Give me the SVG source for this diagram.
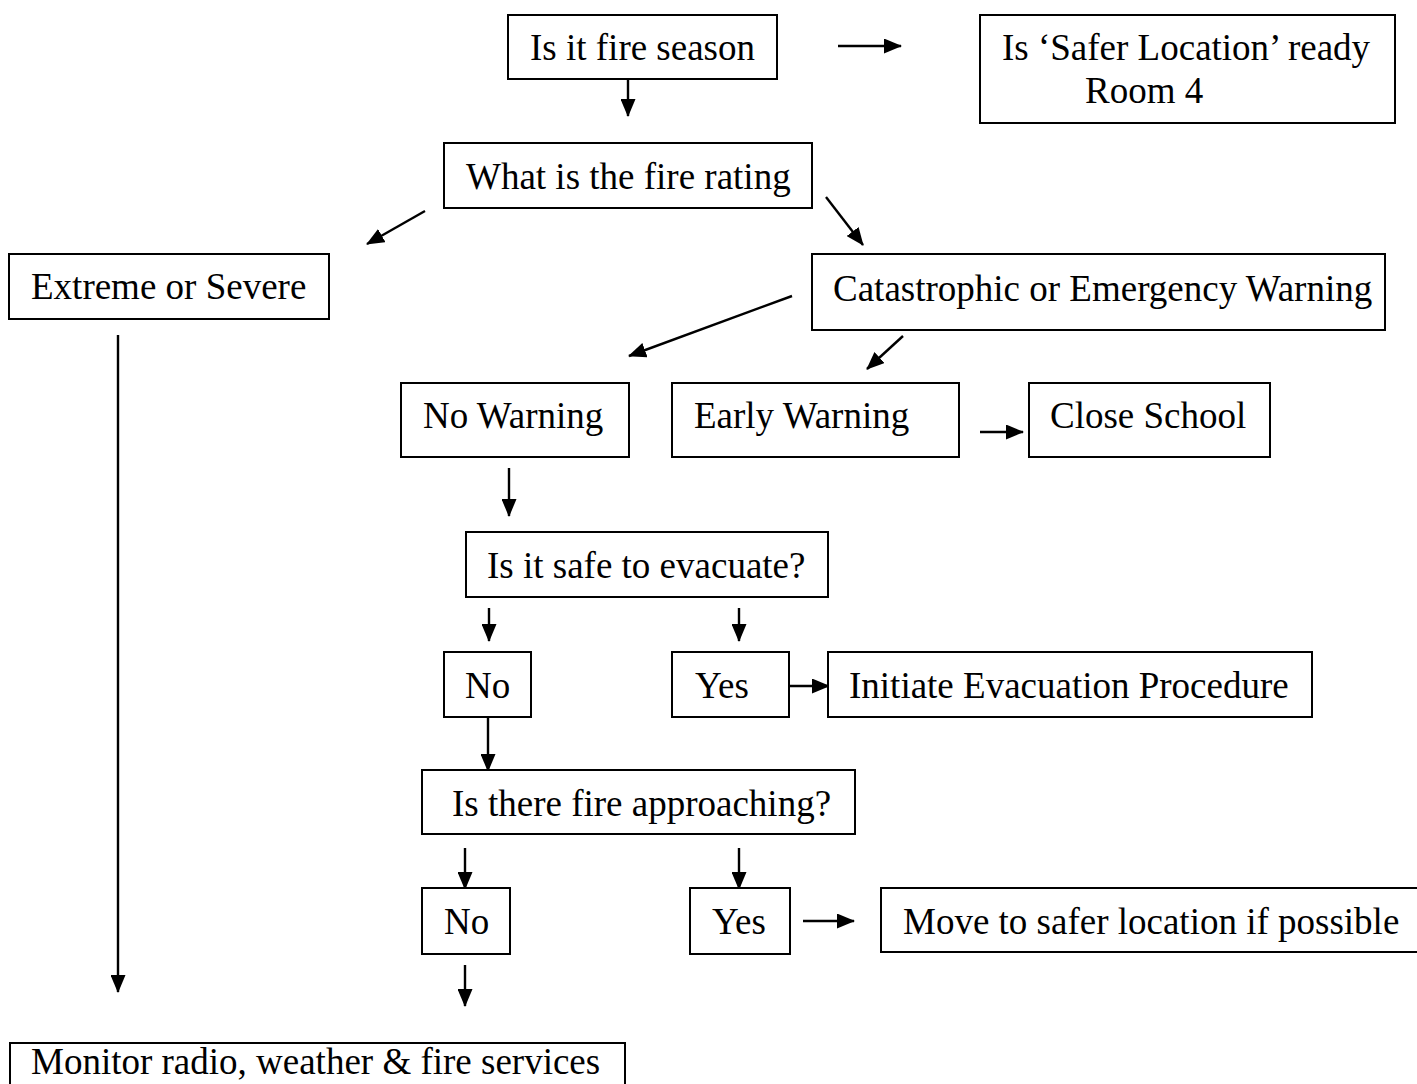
<svg xmlns="http://www.w3.org/2000/svg" width="1417" height="1084" viewBox="0 0 1417 1084">
<defs>
<marker id="ah" markerUnits="userSpaceOnUse" markerWidth="18" markerHeight="15" refX="17" refY="7.5" orient="auto">
<path d="M0,0 L18,7.5 L0,15 Z" fill="#000"/>
</marker>
<style>
.b{fill:#fff;stroke:#000;stroke-width:2}
.t{font-family:"Liberation Serif","Times New Roman",serif;font-size:37px;fill:#000}
.c{stroke:#000;stroke-width:2.4;fill:none;marker-end:url(#ah)}
</style>
</defs>
<rect width="1417" height="1084" fill="#fff"/>
<g id="connectors">
<line class="c" x1="838" y1="46" x2="901" y2="46"/>
<line class="c" x1="628" y1="79" x2="628" y2="116"/>
<line class="c" x1="425" y1="211" x2="367" y2="244"/>
<line class="c" x1="826" y1="197" x2="863" y2="245"/>
<line class="c" x1="118" y1="335" x2="118" y2="992"/>
<line class="c" x1="792" y1="296" x2="629" y2="356"/>
<line class="c" x1="903" y1="336" x2="867" y2="369"/>
<line class="c" x1="980" y1="432" x2="1023" y2="432"/>
<line class="c" x1="509" y1="468" x2="509" y2="516"/>
<line class="c" x1="489" y1="608" x2="489" y2="641"/>
<line class="c" x1="739" y1="608" x2="739" y2="641"/>
<line class="c" x1="789" y1="686" x2="829" y2="686"/>
<line class="c" x1="488" y1="717" x2="488" y2="771"/>
<line class="c" x1="465" y1="848" x2="465" y2="889"/>
<line class="c" x1="739" y1="848" x2="739" y2="889"/>
<line class="c" x1="803" y1="921" x2="854" y2="921"/>
<line class="c" x1="465" y1="965" x2="465" y2="1006"/>
</g>
<g id="n1"><rect class="b" x="508" y="15" width="269" height="64"/><text class="t" x="530" y="60">Is it fire season</text></g>
<g id="n2"><rect class="b" x="980" y="15" width="415" height="108"/><text class="t" x="1002" y="60">Is ‘Safer Location’ ready</text><text class="t" x="1085" y="103">Room 4</text></g>
<g id="n3"><rect class="b" x="444" y="143" width="368" height="65"/><text class="t" x="466" y="189">What is the fire rating</text></g>
<g id="n4"><rect class="b" x="9" y="254" width="320" height="65"/><text class="t" x="31" y="299">Extreme or Severe</text></g>
<g id="n5"><rect class="b" x="812" y="254" width="573" height="76"/><text class="t" x="833" y="301">Catastrophic or Emergency Warning</text></g>
<g id="n6"><rect class="b" x="401" y="383" width="228" height="74"/><text class="t" x="423" y="428">No Warning</text></g>
<g id="n7"><rect class="b" x="672" y="383" width="287" height="74"/><text class="t" x="694" y="428">Early Warning</text></g>
<g id="n8"><rect class="b" x="1029" y="383" width="241" height="74"/><text class="t" x="1050" y="428">Close School</text></g>
<g id="n9"><rect class="b" x="466" y="532" width="362" height="65"/><text class="t" x="487" y="578">Is it safe to evacuate?</text></g>
<g id="n10"><rect class="b" x="444" y="652" width="87" height="65"/><text class="t" x="465" y="698">No</text></g>
<g id="n11"><rect class="b" x="672" y="652" width="117" height="65"/><text class="t" x="695" y="698">Yes</text></g>
<g id="n12"><rect class="b" x="828" y="652" width="484" height="65"/><text class="t" x="849" y="698">Initiate Evacuation Procedure</text></g>
<g id="n13"><rect class="b" x="422" y="770" width="433" height="64"/><text class="t" x="452" y="816">Is there fire approaching?</text></g>
<g id="n14"><rect class="b" x="422" y="888" width="88" height="66"/><text class="t" x="444" y="934">No</text></g>
<g id="n15"><rect class="b" x="690" y="888" width="100" height="66"/><text class="t" x="712" y="934">Yes</text></g>
<g id="n16"><rect class="b" x="881" y="888" width="560" height="64"/><text class="t" x="903" y="934">Move to safer location if possible</text></g>
<g id="n17"><rect class="b" x="10" y="1043" width="615" height="60"/><text class="t" x="31" y="1074">Monitor radio, weather &amp; fire services</text></g>
</svg>
